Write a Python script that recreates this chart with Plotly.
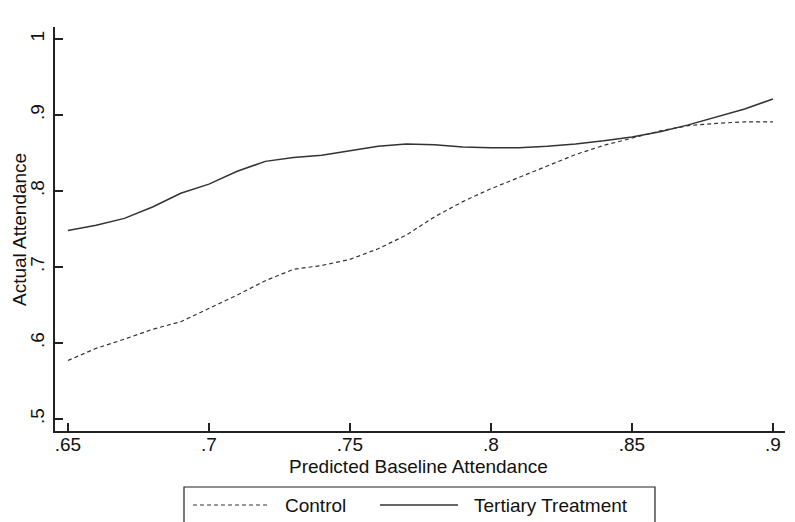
import plotly.graph_objects as go

# Data
baseline = [0.65, 0.66, 0.67, 0.68, 0.69, 0.70, 0.71, 0.72, 0.73, 0.74, 0.75, 0.76, 0.77,
            0.78, 0.79, 0.80, 0.81, 0.82, 0.83, 0.84, 0.85, 0.86, 0.87, 0.88, 0.89, 0.90]
control = [0.577, 0.593, 0.605, 0.618, 0.628, 0.645, 0.663, 0.682, 0.697, 0.702, 0.710, 0.724, 0.742,
           0.766, 0.786, 0.803, 0.818, 0.834, 0.848, 0.860, 0.870, 0.879, 0.886, 0.889, 0.891, 0.891]
tertiary = [0.748, 0.755, 0.764, 0.779, 0.797, 0.809, 0.826, 0.839, 0.844, 0.847, 0.853, 0.859, 0.862,
            0.861, 0.858, 0.857, 0.857, 0.859, 0.862, 0.866, 0.871, 0.878, 0.887, 0.897, 0.908, 0.921]

x_ticks = [0.65, 0.70, 0.75, 0.80, 0.85, 0.90]
x_labels = [".65", ".7", ".75", ".8", ".85", ".9"]
y_ticks = [0.5, 0.6, 0.7, 0.8, 0.9, 1.0]
y_labels = [".5", ".6", ".7", ".8", ".9", "1"]

W, H = 795, 522
OFF = 8  # page body margin of the browser
L, R, T, B = 47, 18, 19, 99
PW, PH = W - L - R, H - T - B

fig = go.Figure()
fig.add_trace(go.Scatter(x=baseline, y=control, mode="lines", name="Control",
                         line=dict(color="#333333", width=1.2, dash="4px,3px")))
fig.add_trace(go.Scatter(x=baseline, y=tertiary, mode="lines", name="Tertiary Treatment",
                         line=dict(color="#333333", width=1.5)))

font = dict(family="Liberation Sans, Arial, sans-serif", size=19, color="#111111")

fig.update_layout(
    width=W, height=H,
    margin=dict(l=L, r=R, t=T, b=B, autoexpand=False),
    paper_bgcolor="white", plot_bgcolor="white",
    showlegend=False,
    font=font,
    xaxis=dict(range=[0.6454, 0.9043], tickvals=x_ticks, ticktext=x_labels, automargin=False,
               showgrid=False, zeroline=False, showline=True, linecolor="#222222", linewidth=1.5,
               ticks="inside", ticklen=8, tickwidth=1.5, tickcolor="#222222",
               ticklabelstandoff=-5),
    yaxis=dict(range=[0.4842, 1.0158], tickvals=y_ticks, ticktext=y_labels, tickangle=-90,
               automargin=False,
               showgrid=False, zeroline=False, showline=True, linecolor="#222222", linewidth=1.5,
               ticks="inside", ticklen=8, tickwidth=1.5, tickcolor="#222222",
               ticklabelstandoff=2),
)

def px(xs):
    return (xs - OFF - L) / PW

def py(ys):
    return 1 - (ys - OFF - T) / PH

# axis titles
fig.add_annotation(xref="paper", yref="paper", x=px(418), y=py(466), text="Predicted Baseline Attendance",
                   showarrow=False, xanchor="center", yanchor="middle", font=font)
fig.add_annotation(xref="paper", yref="paper", x=px(19), y=py(230), text="Actual Attendance",
                   showarrow=False, xanchor="center", yanchor="middle", textangle=-90, font=font)

# manual legend box (paper coordinates)
fig.add_shape(type="rect", xref="paper", yref="paper",
              x0=px(184), x1=px(655), y0=py(540), y1=py(487),
              line=dict(color="#222222", width=1.2), fillcolor="white")
fig.add_shape(type="line", xref="paper", yref="paper",
              x0=px(193), x1=px(268), y0=py(505), y1=py(505),
              line=dict(color="#333333", width=1.2, dash="4px,3px"))
fig.add_shape(type="line", xref="paper", yref="paper",
              x0=px(380), x1=px(458), y0=py(505), y1=py(505),
              line=dict(color="#333333", width=1.5))
fig.add_annotation(xref="paper", yref="paper", x=px(283), y=py(505), text="Control",
                   showarrow=False, xanchor="left", yanchor="middle", font=font)
fig.add_annotation(xref="paper", yref="paper", x=px(472), y=py(505), text="Tertiary Treatment",
                   showarrow=False, xanchor="left", yanchor="middle", font=font)

fig.write_html("out.html")
